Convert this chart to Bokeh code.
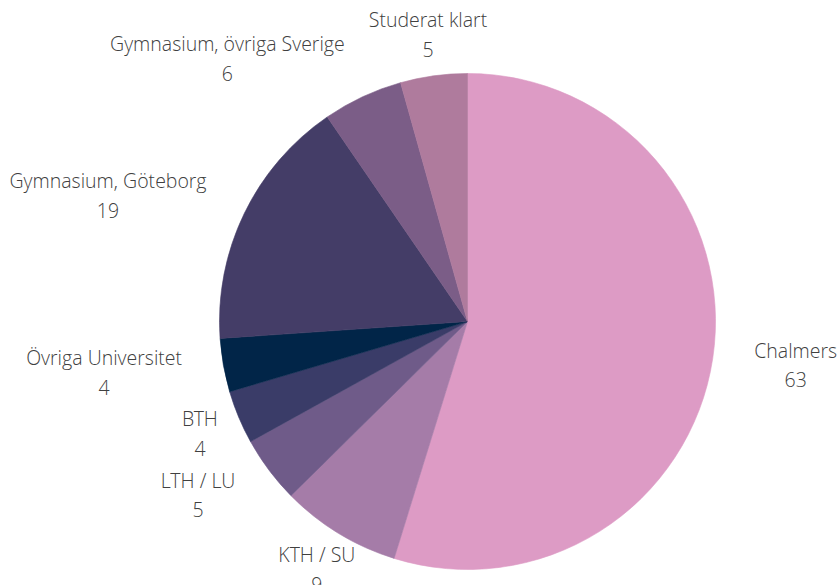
import numpy as np
from bokeh.plotting import figure
from bokeh.models import ColumnDataSource, Range1d
from bokeh.core.properties import value
from bokeh.embed import file_html
from bokeh.resources import INLINE

categories = ["Chalmers", "KTH / SU", "LTH / LU", "BTH", "Övriga Universitet",
              "Gymnasium, Göteborg", "Gymnasium, övriga Sverige", "Studerat klart"]
counts = [63, 9, 5, 4, 4, 19, 6, 5]
colors = ["#DD9BC5", "#A57CA8", "#6F5B89", "#3A3C68", "#012548",
          "#443D67", "#7B5D87", "#AF7B9D"]
label_anchor = ["center_left", "center", "center_right", "center", "center_right",
                "center_right", "center_right", "center"]

W, H = 839, 585
cx, cy = 467, 321          # pie centre in canvas pixels
R = 248
label_r = 290

vals = np.array(counts, dtype=float)
frac = vals / vals.sum()
cum_end = np.cumsum(frac)
cum_start = cum_end - frac
# clockwise from 12 o'clock
start = np.pi / 2 - cum_end * 2 * np.pi
end = np.pi / 2 - cum_start * 2 * np.pi
mid = (start + end) / 2

src = ColumnDataSource(dict(start=start, end=end, color=colors,
                            x=np.zeros(len(counts)), y=np.zeros(len(counts))))

lx = label_r * np.cos(mid)
ly = label_r * np.sin(mid)
texts = [f"{c}\n{v}" for c, v in zip(categories, counts)]
lsrc = ColumnDataSource(dict(x=lx, y=ly, text=texts, anchor=label_anchor))

p = figure(width=W, height=H, output_backend="svg", toolbar_location=None,
           x_range=Range1d(-cx, W - cx), y_range=Range1d(-(H - cy), cy),
           min_border=0)
p.axis.visible = False
p.grid.visible = False
p.outline_line_color = None
p.background_fill_color = "white"
p.border_fill_color = "white"

p.wedge(x="x", y="y", radius=R, start_angle="start", end_angle="end",
        fill_color="color", line_color="color", line_width=0.6, source=src)

p.text(x="x", y="y", text="text", source=lsrc, anchor="anchor",
       text_align="center", text_baseline="middle",
       text_font=value("Open Sans Light, Open Sans"), text_font_size="19.5px",
       text_color="#404040", text_line_height=1.1)

open("out.html", "w").write(file_html(p, INLINE))
